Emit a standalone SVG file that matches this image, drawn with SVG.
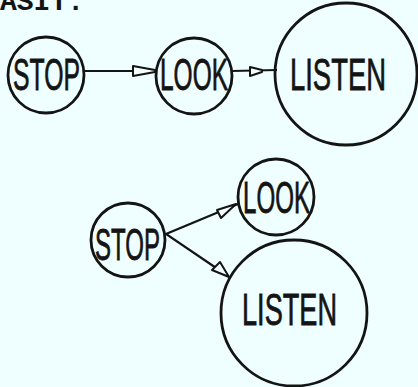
<svg xmlns="http://www.w3.org/2000/svg" width="418" height="387" viewBox="0 0 418 387">
  <defs>
    <style>
      .node circle { fill: none; stroke: #141414; stroke-width: 2.8; }
      .node text { font-family: "Liberation Sans", Arial, sans-serif; font-size: 44px; fill: #141414; stroke: #141414; stroke-width: 0.8; text-anchor: start; }
      .edge { fill: none; stroke: #141414; stroke-width: 2.2; }
      .head { fill: #f4ffff; stroke: #141414; stroke-width: 2; stroke-linejoin: round; }
      .caption { font-family: "Liberation Mono", "DejaVu Sans Mono", monospace; font-weight: bold; font-size: 28px; fill: #141414; }
    </style>
  </defs>

  <rect x="0" y="0" width="418" height="387" fill="#efffff"/>

  <!-- heading, top cut off by the page edge -->
  <text class="caption" x="0" y="10">ASIT.</text>

  <!-- connectors -->
  <g id="connectors">
    <!-- top row: STOP -> LOOK -> LISTEN -->
    <line class="edge" x1="84" y1="71" x2="156" y2="71"/>
    <polygon class="head" points="133,66 155,70 155,72 133,76"/>
    <line class="edge" x1="232" y1="71" x2="277" y2="70"/>
    <polygon class="head" points="250,67 262,70 262,72 250,76"/>

    <!-- bottom: STOP branches to LOOK and LISTEN -->
    <polyline class="edge" points="238,204 166,234 228,276"/>
    <polygon class="head" points="217,210 221,218 236,204"/>
    <polygon class="head" points="220,262 212,270 229,277"/>
  </g>

  <!-- top row -->
  <g id="stop-1" class="node">
    <circle cx="46" cy="75" r="38"/>
    <text x="13" y="90" textLength="67" lengthAdjust="spacingAndGlyphs">STOP</text>
  </g>
  <g id="look-1" class="node">
    <circle cx="194" cy="76" r="38"/>
    <text x="160" y="90" textLength="68" lengthAdjust="spacingAndGlyphs">LOOK</text>
  </g>
  <g id="listen-1" class="node">
    <circle cx="346" cy="74" r="71"/>
    <text x="290" y="90" textLength="96" lengthAdjust="spacingAndGlyphs">LISTEN</text>
  </g>

  <!-- bottom group -->
  <g id="stop-2" class="node">
    <circle cx="128" cy="240" r="37"/>
    <text x="95" y="260" textLength="65" lengthAdjust="spacingAndGlyphs">STOP</text>
  </g>
  <g id="look-2" class="node">
    <circle cx="276" cy="197" r="38"/>
    <text x="243" y="213" textLength="67" lengthAdjust="spacingAndGlyphs">LOOK</text>
  </g>
  <g id="listen-2" class="node">
    <circle cx="294" cy="313" r="73"/>
    <text x="242" y="325" textLength="95" lengthAdjust="spacingAndGlyphs">LISTEN</text>
  </g>
</svg>
